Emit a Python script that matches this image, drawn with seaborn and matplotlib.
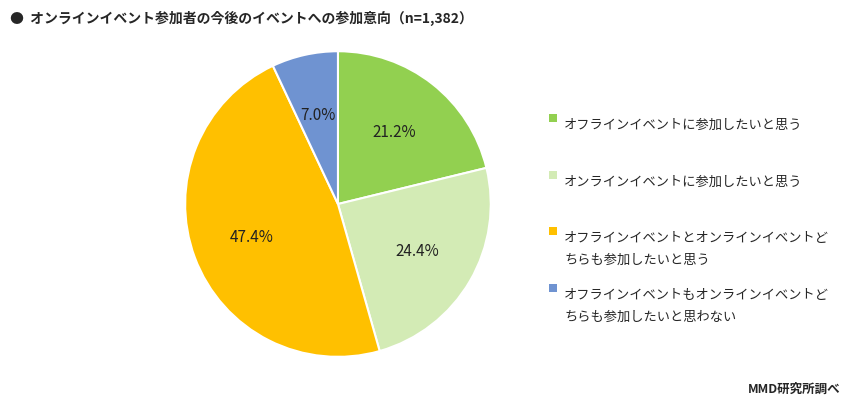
import matplotlib.pyplot as plt
import seaborn as sns
from matplotlib.patches import Rectangle

sns.set_style("white")
plt.rcParams["font.family"] = "Noto Sans CJK JP"

labels = ["オフラインイベントに参加したいと思う",
          "オンラインイベントに参加したいと思う",
          "オフラインイベントとオンラインイベントど\nちらも参加したいと思う",
          "オフラインイベントもオンラインイベントど\nちらも参加したいと思わない"]
values = [21.2, 24.4, 47.4, 7.0]
colors = ["#92D050", "#D3EBB5", "#FFC000", "#6F93D1"]
legend_y = [119, 176, 232, 289]  # first-line pixel rows of the legend items

W, H = 847, 406
fig = plt.figure(figsize=(W / 100, H / 100), dpi=100)
aw, ah = 0.451, 0.941
ax = fig.add_axes([0.399 - aw / 2, 0.495 - ah / 2, aw, ah])
ax.pie(values, colors=colors, startangle=90, counterclock=False,
       autopct="%.1f%%", pctdistance=0.6,
       wedgeprops=dict(edgecolor="white", linewidth=1.5),
       textprops=dict(fontsize=11, color="#222222"))
ax.set_aspect("equal")

for lab, c, y in zip(labels, colors, legend_y):
    fig.add_artist(Rectangle((549 / W, 1 - (y + 4) / H), 8 / W, 8 / H,
                             facecolor=c, edgecolor="none",
                             transform=fig.transFigure))
    fig.text(564 / W, 1 - y / H, lab, fontsize=9.5, va="top", ha="left",
             linespacing=1.9, transform=fig.transFigure)

fig.text(0.012, 0.955, "●  オンラインイベント参加者の今後のイベントへの参加意向（n=1,382）",
         fontsize=10, fontweight="bold", va="center")
fig.text(0.992, 0.04, "MMD研究所調べ", fontsize=9, fontweight="bold",
         ha="right", va="center")

fig.savefig("out.png", dpi=100)
